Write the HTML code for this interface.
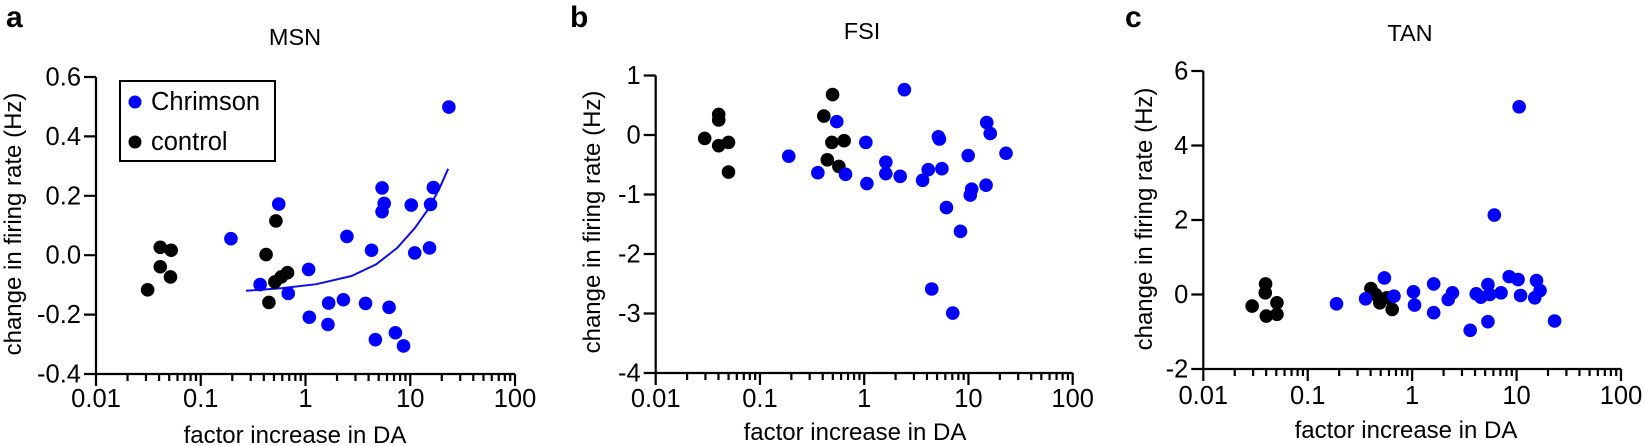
<!DOCTYPE html>
<html><head><meta charset="utf-8"><style>
html,body{margin:0;padding:0;background:#fff;width:1645px;height:446px;overflow:hidden}
svg{display:block}
text{font-family:"Liberation Sans",Arial,sans-serif;fill:#000}
</style></head><body>
<svg id="s" width="1645" height="446" viewBox="0 0 1645 446" xmlns="http://www.w3.org/2000/svg">
<text x="6" y="27" font-size="30" font-weight="bold">a</text>
<text x="570" y="27" font-size="30" font-weight="bold">b</text>
<text x="1125" y="27" font-size="30" font-weight="bold">c</text>
</svg>
<script>
var S=document.getElementById('s'),NS='http://www.w3.org/2000/svg';
function el(p,t,a,txt){var e=document.createElementNS(NS,t);for(var k in a)e.setAttribute(k,a[k]);if(txt!=null)e.textContent=txt;p.appendChild(e);return e;}
var panels=[
{off:0,sx:1/2.845,zy0:222,zy1:1122,x0:96,x1:515,y0:77,y1:374,yt:['0.6','0.4','0.2','0.0','-0.2','-0.4'],title:'MSN',tx:295,ty:45,ylx:21,yly:224,xlx:295,xly:443,tly:407,
 blk:[[420,867],[456,738],[487,747],[456,797],[485,828],[785,658],[757,760],[765,905],[782,843],[800,828],[818,815]],
 blu:[[657,712],[793,607],[740,851],[820,878],[878,805],[880,950],[935,907],[933,972],[977,897],[987,705],[1040,908],[1057,747],[1068,1018],[1087,558],[1093,605],[1087,630],[1107,920],[1125,997],[1148,1037],[1170,610],[1180,755],[1222,740],[1225,608],[1233,557],[1277,313]]},
{off:540,sx:1/2.854,zy0:217,zy1:1120,x0:655.7,x1:1072.7,y0:75.5,y1:373,yt:['1','0','-1','-2','-3','-4'],title:'FSI',tx:862,ty:39,ylx:600,yly:222,xlx:855,xly:440,tly:407,
 blk:[[470,408],[510,335],[510,352],[510,430],[538,420],[538,510],[835,275],[810,340],[820,473],[833,420],[868,415],[853,493]],
 blu:[[710,462],[793,512],[847,357],[872,517],[930,420],[933,545],[987,480],[987,515],[1028,523],[1040,260],[1092,535],[1108,503],[1137,403],[1140,410],[1147,500],[1160,618],[1118,865],[1178,938],[1200,690],[1222,460],[1232,562],[1228,580],[1275,360],[1285,393],[1273,550],[1330,453]]},
{off:1089,sx:1/2.82,zy0:205,zy1:1105,x0:1203.3,x1:1621,y0:71,y1:369,yt:['6','4','2','0','-2'],title:'TAN',tx:1410,ty:41,ylx:1152,yly:219,xlx:1406,xly:438,tly:404,
 blk:[[460,915],[498,848],[497,875],[530,905],[500,945],[530,940],[795,862],[808,880],[822,895],[820,905],[840,890],[855,925]],
 blu:[[698,908],[780,893],[833,830],[860,885],[915,872],[918,912],[972,848],[972,935],[1013,895],[1025,875],[1075,988],[1092,878],[1105,888],[1125,850],[1130,880],[1125,962],[1143,640],[1162,875],[1185,826],[1210,835],[1213,313],[1217,883],[1262,838],[1257,890],[1272,868],[1313,960]]}
];
panels.forEach(function(p,i){
 var k=(p.y1-p.y0)/(p.zy1-p.zy0);
 function X(z){return p.off+z*p.sx;} function Y(z){return p.y0+(z-p.zy0)*k;}
 el(S,'text',{x:p.tx,y:p.ty,'font-size':23.5,'text-anchor':'middle'},p.title);
 var d='M'+p.x0+' '+p.y0+'V'+p.y1+'H'+p.x1;
 var n=p.yt.length;
 p.yt.forEach(function(t,j){var y=p.y0+(p.y1-p.y0)*j/(n-1);d+='M'+(p.x0-12)+' '+y+'H'+p.x0;
  el(S,'text',{x:p.x0-15,y:y+8.5,'font-size':25.5,'text-anchor':'end'},t);});
 var D=(p.x1-p.x0)/4,labs=['0.01','0.1','1','10','100'];
 for(var q=0;q<5;q++){var x=p.x0+D*q;d+='M'+x+' '+p.y1+'V'+(p.y1+12);
  el(S,'text',{x:x,y:p.tly,'font-size':25.5,'text-anchor':'middle'},labs[q]);
  if(q<4)for(var m=2;m<10;m++){var xm=x+D*Math.log10(m);d+='M'+xm+' '+p.y1+'V'+(p.y1+7);}}
 el(S,'path',{d:d,fill:'none',stroke:'#000','stroke-width':2.2});
 el(S,'text',{x:0,y:0,'font-size':24,'text-anchor':'middle',transform:'translate('+p.ylx+','+p.yly+') rotate(-90)'},'change in firing rate (Hz)');
 el(S,'text',{x:p.xlx,y:p.xly,'font-size':24,'text-anchor':'middle'},'factor increase in DA');
 if(i==0){
  var pts=[[700,870],[800,862],[900,850],[1000,825],[1070,790],[1130,740],[1180,680],[1220,620],[1250,560],[1275,500]];
  el(S,'path',{d:'M'+pts.map(function(r){return X(r[0]).toFixed(1)+' '+Y(r[1]).toFixed(1);}).join(' L'),fill:'none',stroke:'#1010e0','stroke-width':2});
  el(S,'rect',{x:120,y:81,width:155,height:80,fill:'#fff',stroke:'#000','stroke-width':2});
  el(S,'circle',{cx:135,cy:102,r:6.5,fill:'#0000ff'});
  el(S,'circle',{cx:135,cy:142,r:6.5,fill:'#000'});
  el(S,'text',{x:151,y:110,'font-size':25.5},'Chrimson');
  el(S,'text',{x:151,y:150,'font-size':25.5},'control');
 }
 p.blk.forEach(function(c){el(S,'circle',{cx:X(c[0]),cy:Y(c[1]),r:6.8,fill:'#000'});});
 p.blu.forEach(function(c){el(S,'circle',{cx:X(c[0]),cy:Y(c[1]),r:6.8,fill:'#0000ff'});});
});
</script>
</body></html>
